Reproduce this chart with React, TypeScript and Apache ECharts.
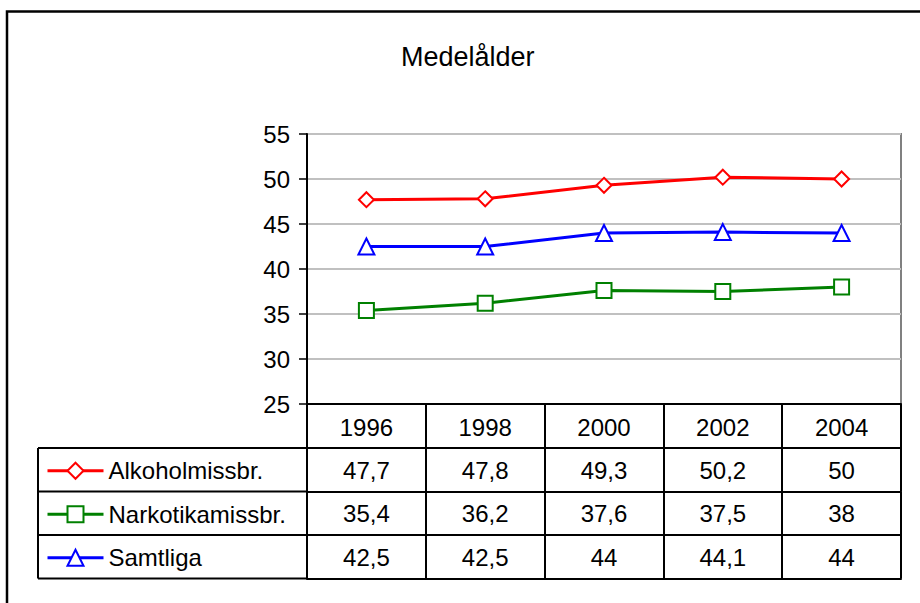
import React, { useEffect, useRef } from "react";
import * as echarts from "echarts";

const years = ["1996", "1998", "2000", "2002", "2004"];
const alkohol = [47.7, 47.8, 49.3, 50.2, 50];
const narkotika = [35.4, 36.2, 37.6, 37.5, 38];
const samtliga = [42.5, 42.5, 44, 44.1, 44];
const seriesNames = ["Alkoholmissbr.", "Narkotikamissbr.", "Samtliga"];
const titleText = "Medelålder";

const FONT = "'Liberation Sans', Arial, sans-serif";
const FS = 24;
const fmt = (v: number) => String(v).replace(".", ",");

export default function App() {
  const ref = useRef<HTMLDivElement>(null);
  useEffect(() => {
    document.body.style.margin = "0";
    const chart = echarts.init(ref.current!, null, { renderer: "svg" });
    const gridLeft = 307;
    const gridRight = 901;
    const gridTop = 134;
    const gridBottom = 404;
    const rowH = 43.5;
    const headerH = 44;
    const rowTops = [gridBottom + headerH, gridBottom + headerH + rowH, gridBottom + headerH + 2 * rowH, gridBottom + headerH + 3 * rowH];
    const black = { color: "#000", width: 2 };

    const valueAxis = (vals: number[], offset: number) => ({
      type: "category",
      gridIndex: 0,
      position: "bottom",
      offset,
      data: years,
      boundaryGap: true,
      axisLine: { show: true, lineStyle: black },
      axisTick: { show: true, interval: 0, length: rowH, lineStyle: black },
      axisLabel: {
        show: true,
        interval: 0,
        margin: 10,
        fontSize: FS,
        fontFamily: FONT,
        color: "#000",
        formatter: (_v: string, i: number) => fmt(vals[i]),
      },
      splitLine: { show: false },
    });

    const tableLines: any[] = rowTops.map((y) => ({
      type: "line",
      shape: { x1: 38, y1: y, x2: gridLeft, y2: y },
      style: { stroke: "#000", lineWidth: 2 },
    }));
    tableLines.push({
      type: "line",
      shape: { x1: 38, y1: rowTops[0], x2: 38, y2: rowTops[3] },
      style: { stroke: "#000", lineWidth: 2 },
    });

    chart.setOption({
      animation: false,
      backgroundColor: "#fff",
      title: {
        text: titleText,
        left: 401,
        top: 43,
        padding: 0,
        textStyle: { fontSize: 27, fontWeight: "normal", fontFamily: FONT, color: "#000" },
      },
      grid: {
        left: gridLeft,
        right: 920 - gridRight,
        top: gridTop,
        bottom: 603 - gridBottom,
        show: true,
        borderColor: "#808080",
        borderWidth: 2,
        containLabel: false,
      },
      legend: {
        orient: "vertical",
        left: 46,
        top: rowTops[0] + rowH / 2 - 11,
        padding: 0,
        itemWidth: 56,
        itemHeight: 20,
        itemGap: rowH - 24,
        lineStyle: { width: 3 },
        textStyle: { fontSize: FS, lineHeight: 24, fontFamily: FONT, color: "#000" },
        data: seriesNames,
      },
      xAxis: [
        {
          type: "category",
          gridIndex: 0,
          position: "bottom",
          data: years,
          boundaryGap: true,
          axisLine: { show: true, lineStyle: black },
          axisTick: { show: true, interval: 0, length: headerH, lineStyle: black },
          axisLabel: { interval: 0, margin: 11, fontSize: FS, fontFamily: FONT, color: "#000" },
          splitLine: { show: false },
        },
        valueAxis(alkohol, headerH),
        valueAxis(narkotika, headerH + rowH),
        valueAxis(samtliga, headerH + 2 * rowH),
        {
          type: "category",
          gridIndex: 0,
          position: "bottom",
          offset: headerH + 3 * rowH,
          data: years,
          axisLine: { show: true, lineStyle: black },
          axisTick: { show: false },
          axisLabel: { show: false },
          splitLine: { show: false },
        },
      ],
      yAxis: {
        type: "value",
        min: 25,
        max: 55,
        interval: 5,
        axisLine: { show: true, lineStyle: black },
        axisTick: { show: true, length: 8, lineStyle: { color: "#000", width: 1.5 } },
        axisLabel: { fontSize: FS, fontFamily: FONT, color: "#000", margin: 17 },
        splitLine: { show: true, lineStyle: { color: "#c0c0c0", width: 2 } },
      },
      series: [
        {
          name: seriesNames[0],
          type: "line",
          data: alkohol,
          symbol: "emptyDiamond",
          symbolSize: 15,
          color: "#ff0000",
          lineStyle: { color: "#ff0000", width: 3 },
          itemStyle: { color: "#ff0000", borderWidth: 2 },
        },
        {
          name: seriesNames[1],
          type: "line",
          data: narkotika,
          symbol: "emptyRect",
          symbolSize: 15,
          color: "#008000",
          lineStyle: { color: "#008000", width: 3 },
          itemStyle: { color: "#008000", borderWidth: 2 },
        },
        {
          name: seriesNames[2],
          type: "line",
          data: samtliga,
          symbol: "emptyTriangle",
          symbolSize: 16,
          color: "#0000ff",
          lineStyle: { color: "#0000ff", width: 3 },
          itemStyle: { color: "#0000ff", borderWidth: 2 },
        },
      ],
      graphic: [
        {
          type: "rect",
          shape: { x: 7, y: 11.5, width: 1000, height: 700 },
          style: { fill: "none", stroke: "#000", lineWidth: 2.5 },
          silent: true,
        },
        ...tableLines,
      ],
    });
    return () => chart.dispose();
  }, []);
  return <div ref={ref} style={{ width: 920, height: 603 }} />;
}
